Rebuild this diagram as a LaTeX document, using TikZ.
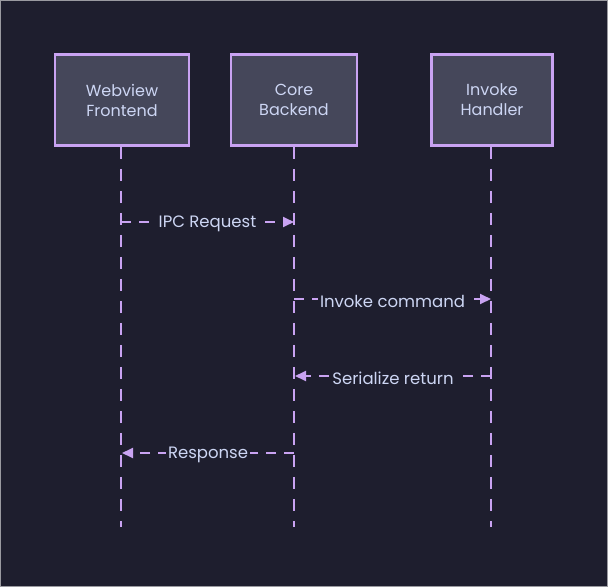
\documentclass[tikz,border=0pt]{standalone}
\usepackage{fontspec}
\setmainfont{Poppins}
\usetikzlibrary{arrows.meta}
\definecolor{bgc}{HTML}{1E1E2E}
\definecolor{boxc}{HTML}{45475A}
\definecolor{strokec}{HTML}{C9A3F2}
\definecolor{textc}{HTML}{CDD6F4}
\definecolor{framec}{HTML}{9A9AA0}
\tikzset{
  actor/.style={draw=strokec, line width=2.6pt, fill=boxc, text=textc, align=center,
    font=\fontsize{16}{20}\selectfont, minimum height=91pt, inner sep=0pt},
  lifeline/.style={draw=strokec, line width=2pt, dash pattern=on 12pt off 10pt},
  msg/.style={draw=strokec, line width=1.8pt, dash pattern=on 10pt off 8pt,
    -{Triangle[length=11pt,width=10pt]}},
  msglabel/.style={fill=bgc, text=textc, font=\fontsize{16.5}{18}\selectfont, inner sep=2pt,
    yshift=-2pt}
}
\begin{document}
\begin{tikzpicture}[x=1pt,y=-1pt]
\fill[bgc, draw=framec, line width=1pt] (0.5,0.5) rectangle (607.5,586.5);
\useasboundingbox (0,0) rectangle (608,587);
% actors
\node[actor, minimum width=134pt] (web) at (122,100) {Webview\\Frontend};
\node[actor, minimum width=126pt] (core) at (294,100) {Core\\Backend};
\node[actor, minimum width=121pt] (inv) at (492,100) {Invoke\\Handler};
% lifeline ends
\coordinate (webE) at (121,527);
\coordinate (coreE) at (294,527);
\coordinate (invE) at (491,527);
\draw[lifeline] (web.south -| webE) -- (webE);
\draw[lifeline] (core.south -| coreE) -- (coreE);
\draw[lifeline] (inv.south -| invE) -- (invE);
% message anchors
\coordinate (w1) at (121,222); \coordinate (c1) at (294,222);
\coordinate (c2) at (294,299); \coordinate (i2) at (491,299);
\coordinate (i3) at (491,376); \coordinate (c3) at (295,376);
\coordinate (c4) at (294,453); \coordinate (w4) at (122,453);
\draw[msg] (w1) -- node[msglabel] (l1) {IPC Request} (c1);
\draw[msg] (c2) -- node[msglabel] (l2) {Invoke command} (i2);
\draw[msg] (i3) -- node[msglabel] (l3) {Serialize return} (c3);
\draw[msg] (c4) -- node[msglabel] (l4) {Response} (w4);
\end{tikzpicture}
\end{document}
